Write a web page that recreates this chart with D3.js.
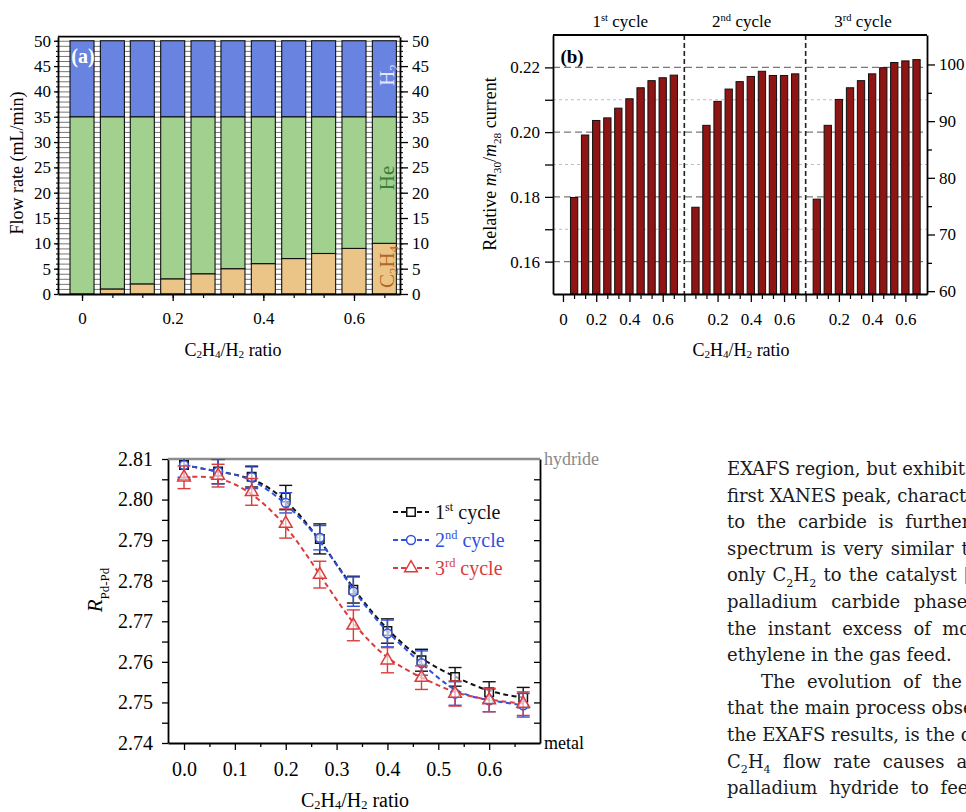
<!DOCTYPE html>
<html>
<head>
<meta charset="utf-8">
<script src="https://cdn.jsdelivr.net/npm/d3@7"></script>
<style>
  body { margin: 0; background: #fff; }
  svg { display: block; }
</style>
</head>
<body>
<svg id="fig" width="966" height="812"></svg>
<script>
// ---------- data ----------
// panel (a): gas flows per C2H4/H2 ratio
var ratios    = [0, 0.067, 0.133, 0.2, 0.267, 0.333, 0.4, 0.467, 0.533, 0.6, 0.667];
var flowC2H4  = [0, 1, 2, 3, 4, 5, 6, 7, 8, 9, 10];
var flowHe    = [35, 34, 33, 32, 31, 30, 29, 28, 27, 26, 25];
var flowH2    = [15, 15, 15, 15, 15, 15, 15, 15, 15, 15, 15];
var aYTicks   = [0, 5, 10, 15, 20, 25, 30, 35, 40, 45, 50];
var aXTicks   = [0, 0.2, 0.4, 0.6];

// panel (b): relative m30/m28 current, three cycles
var cycleRatios = [0.067, 0.133, 0.2, 0.267, 0.333, 0.4, 0.467, 0.533, 0.6, 0.667];
var cycle1 = [0.1798, 0.1991, 0.2036, 0.2044, 0.2074, 0.2103, 0.2137, 0.2159, 0.2168, 0.2176];
var cycle2 = [0.1768, 0.2021, 0.2095, 0.2133, 0.2156, 0.2172, 0.2188, 0.2175, 0.2175, 0.2180];
var cycle3 = [0.1793, 0.2021, 0.2101, 0.2137, 0.2159, 0.2180, 0.2199, 0.2215, 0.2220, 0.2224];
var cycleNames = ["1^{st} cycle", "2^{nd} cycle", "3^{rd} cycle"];
var bYTicks  = [0.16, 0.18, 0.20, 0.22];
var bYMinor  = [0.17, 0.19, 0.21];
var bY2Ticks = [60, 70, 80, 90, 100];
var bY2Minor = [65, 75, 85, 95];
var bXLabels = ["0", "0.2", "0.4", "0.6"];

// panel (c): Pd-Pd distance
var rpd1 = [2.8085, 2.8069, 2.8056, 2.8005, 2.7903, 2.7778, 2.7676, 2.7604, 2.7563, 2.7525, 2.7512];
var rpd2 = [2.8085, 2.8069, 2.8055, 2.7992, 2.7906, 2.7773, 2.7670, 2.7597, 2.7522, 2.7505, 2.7493];
var rpd3 = [2.8055, 2.8059, 2.8019, 2.7941, 2.7815, 2.7690, 2.7604, 2.7561, 2.7522, 2.7506, 2.7497];
var err1 = [0.0035, 0.003, 0.0025, 0.003, 0.0037, 0.0033, 0.003, 0.0027, 0.0023, 0.0026, 0.0025];
var err2 = [0.003, 0.003, 0.0028, 0.0025, 0.003, 0.0036, 0.0033, 0.003, 0.0029, 0.0028, 0.0029];
var err3 = [0.0028, 0.0028, 0.0033, 0.0036, 0.0033, 0.0038, 0.0031, 0.0029, 0.0031, 0.0029, 0.0029];
var cYTicks = [2.74, 2.75, 2.76, 2.77, 2.78, 2.79, 2.80, 2.81];
var cXTicks = [0, 0.1, 0.2, 0.3, 0.4, 0.5, 0.6];

// article text beside panel (c)
var textLines = [
  "EXAFS region, but exhibits a lower intensity of the",
  "first XANES peak, characteristic of the carbide phase",
  "to the carbide is further confirmed by the fact that this",
  "spectrum is very similar to the one obtained when feeding",
  "only C_{2}H_{2} to the catalyst [41]. The formation of the",
  "palladium carbide phase can be explained by",
  "the instant excess of molecular hydrogen over",
  "ethylene in the gas feed.",
  "The evolution of the diffraction data shows",
  "that the main process observed, in agreement with",
  "the EXAFS results, is the decrease of the lattice",
  "C_{2}H_{4} flow rate causes a gradual transformation of",
  "palladium hydride to feed the hydrogenation"
];
var wordGap = [0, 0, 6, 2, 1.5, 8, 5.5, 0, 6, 0, 0, 6.5, 6];
var indented = [false, false, false, false, false, false, false, false, true, false, false, false, false];

// ---------- helpers ----------
var serif = '"Liberation Serif", "Times New Roman", serif';
var svg = d3.select('#fig');
svg.append('rect').attr('width', 966).attr('height', 812).attr('fill', '#fff');

// text with _{sub}, ^{sup} and *italic*; baseDy shifts the whole line (px)
function rich(t, str, size, subShift, baseDy) {
    var parts = str.split(/(_\{[^}]*\}|\^\{[^}]*\}|\*[^*]*\*)/).filter(function (s) { return s.length; });
    var cur = -(baseDy || 0);
    parts.forEach(function (p) {
        var off = 0, txt = p, small = false, ital = false;
        if (p[0] === '_') { off = size * (subShift || 0.22); txt = p.slice(2, -1); small = true; }
        else if (p[0] === '^') { off = -size * 0.38; txt = p.slice(2, -1); small = true; }
        else if (p[0] === '*') { txt = p.slice(1, -1); ital = true; }
        var s = t.append('tspan').attr('dy', off - cur).text(txt);
        if (small) s.attr('font-size', size * 0.62);
        if (ital) s.attr('font-style', 'italic');
        cur = off;
    });
}

function styleAxis(g, size) {
    g.attr('font-family', serif).attr('font-size', size);
    g.selectAll('path, line').attr('stroke', '#000');
    g.select('.domain').attr('stroke-width', 1.8);
    g.selectAll('.tick line').attr('stroke-width', 1.3);
    g.selectAll('.tick text').attr('fill', '#000');
}

function label(x, y, str, size, opts) {
    opts = opts || {};
    var t = svg.append('text')
        .attr('transform', 'translate(' + x + ',' + y + ')' + (opts.rotate ? ' rotate(-90)' : ''))
        .attr('text-anchor', opts.anchor || 'middle')
        .attr('font-family', opts.family || serif)
        .attr('font-size', size)
        .attr('fill', opts.fill || '#000');
    if (opts.bold) t.attr('font-weight', 'bold');
    rich(t, str, size, opts.sub, (opts.mid ? 0.35 * size : 0));
    return t;
}

// ---------- panel (a) ----------
var A = { left: 58, right: 400, top: 36.7, bottom: 294 };
var xA = d3.scaleLinear().domain([-0.053, 0.7015]).range([A.left, A.right]);
var yA = d3.scaleLinear().domain([0, 50.8]).range([A.bottom, A.top]);
var gA = svg.append('g');

// ladder rungs showing between the bars
gA.append('g')
    .attr('transform', 'translate(' + A.left + ',0)')
    .call(d3.axisLeft(yA).tickValues(d3.range(1, 51)).tickSize(-(A.right - A.left)).tickFormat(''))
    .call(function (g) { g.select('.domain').remove(); })
    .selectAll('line').attr('stroke', '#666').attr('stroke-width', 0.9);

var rowsA = ratios.map(function (r, i) {
    return { ratio: r, C2H4: flowC2H4[i], He: flowHe[i], H2: flowH2[i] };
});
var stackA = d3.stack().keys(['C2H4', 'He', 'H2'])(rowsA);
var colorsA = { C2H4: '#ebc588', He: '#a1d08f', H2: '#6884e0' };
var barWA = xA(0.053) - xA(0);

gA.selectAll('g.layer')
    .data(stackA)
    .enter().append('g')
    .attr('class', 'layer')
    .attr('fill', function (d) { return colorsA[d.key]; })
    .selectAll('rect')
    .data(function (d) { return d; })
    .enter().append('rect')
    .attr('x', function (d) { return xA(d.data.ratio) - barWA / 2; })
    .attr('width', barWA)
    .attr('y', function (d) { return yA(d[1]); })
    .attr('height', function (d) { return yA(d[0]) - yA(d[1]); })
    .attr('stroke', '#111')
    .attr('stroke-width', 1.1);

gA.append('line').attr('x1', A.left).attr('x2', A.right).attr('y1', A.top).attr('y2', A.top)
    .attr('stroke', '#000').attr('stroke-width', 1.8);

gA.append('g').attr('transform', 'translate(' + A.left + ',0)')
    .call(d3.axisLeft(yA).tickValues(aYTicks).tickSize(4).tickSizeOuter(0).tickPadding(3))
    .call(styleAxis, 17);
gA.append('g').attr('transform', 'translate(' + A.left + ',0)')
    .call(d3.axisLeft(yA).tickValues(d3.range(0, 51)).tickSize(2).tickFormat(''))
    .call(function (g) { g.select('.domain').remove(); g.selectAll('line').attr('stroke', '#000'); });
gA.append('g').attr('transform', 'translate(' + A.right + ',0)')
    .call(d3.axisRight(yA).tickValues(aYTicks).tickSize(8).tickSizeOuter(0).tickPadding(4))
    .call(styleAxis, 17);
gA.append('g').attr('transform', 'translate(' + A.right + ',0)')
    .call(d3.axisRight(yA).tickValues(d3.range(0, 51)).tickSize(3).tickFormat(''))
    .call(function (g) { g.select('.domain').remove(); g.selectAll('line').attr('stroke', '#000'); });
gA.append('g').attr('transform', 'translate(0,' + A.bottom + ')')
    .call(d3.axisBottom(xA).tickValues(aXTicks).tickSize(7).tickSizeOuter(0).tickPadding(11)
        .tickFormat(function (d) { return d === 0 ? '0' : d3.format('.1f')(d); }))
    .call(styleAxis, 17);
gA.append('g').attr('transform', 'translate(0,' + A.bottom + ')')
    .call(d3.axisBottom(xA).tickValues(ratios).tickSize(4).tickFormat(''))
    .call(function (g) { g.select('.domain').remove(); g.selectAll('line').attr('stroke', '#000').attr('stroke-width', 1.2); });

label(83, 63, '(a)', 20, { bold: true, fill: '#fff' });
label(387, 75, 'H_{2}', 21, { rotate: true, fill: '#e4e8fb', mid: true, sub: 0.15 });
label(387, 178, 'He', 21, { rotate: true, fill: '#3d7d39', mid: true });
label(387, 267, 'C_{2}H_{4}', 21, { rotate: true, fill: '#b4661f', mid: true, sub: 0.15 });
label(17, 163, 'Flow rate (mL/min)', 18, { rotate: true, mid: true });
label(233, 356, 'C_{2}H_{4}/H_{2} ratio', 18, { sub: 0.12 });

// ---------- panel (b) ----------
var B = { left: 553, right: 927, top: 35, bottom: 294 };
var groupW = 0.73;
var xB = d3.scaleLinear().domain([-0.06, 2.19]).range([B.left, B.right]);
var yB = d3.scaleLinear().domain([0.15, 0.23]).range([B.bottom, B.top]);
var yB2 = d3.scaleLinear().domain([59.5, 105.2]).range([B.bottom, B.top]);
var gB = svg.append('g');

gB.selectAll('line.gmaj').data(bYTicks).enter().append('line')
    .attr('x1', B.left).attr('x2', B.right)
    .attr('y1', function (d) { return yB(d); }).attr('y2', function (d) { return yB(d); })
    .attr('stroke', '#7a7a7a').attr('stroke-width', 1.4).attr('stroke-dasharray', '7,4');
gB.selectAll('line.gmin').data(bYMinor).enter().append('line')
    .attr('x1', B.left).attr('x2', B.right)
    .attr('y1', function (d) { return yB(d); }).attr('y2', function (d) { return yB(d); })
    .attr('stroke', '#bdbdbd').attr('stroke-width', 1).attr('stroke-dasharray', '3,3');

gB.selectAll('line.sep').data([groupW, 2 * groupW]).enter().append('line')
    .attr('x1', function (d) { return xB(d); }).attr('x2', function (d) { return xB(d); })
    .attr('y1', B.top).attr('y2', B.bottom)
    .attr('stroke', '#222').attr('stroke-width', 1.6).attr('stroke-dasharray', '5,3');

var barWB = 7.3;
[cycle1, cycle2, cycle3].forEach(function (vals, g) {
    gB.append('g').selectAll('rect')
        .data(vals)
        .enter().append('rect')
        .attr('x', function (d, i) { return xB(g * groupW + cycleRatios[i]) - barWB / 2; })
        .attr('width', barWB)
        .attr('y', function (d) { return yB(d); })
        .attr('height', function (d) { return B.bottom - yB(d); })
        .attr('fill', '#8f1414')
        .attr('stroke', '#111')
        .attr('stroke-width', 1);
    label(xB(g * groupW + 0.345), 27, cycleNames[g], 17);
});

gB.append('line').attr('x1', B.left).attr('x2', B.right).attr('y1', B.top).attr('y2', B.top)
    .attr('stroke', '#000').attr('stroke-width', 1.8);

gB.append('g').attr('transform', 'translate(' + B.left + ',0)')
    .call(d3.axisLeft(yB).tickValues(bYTicks).tickSize(8).tickSizeOuter(0).tickPadding(5).tickFormat(d3.format('.2f')))
    .call(styleAxis, 17);
gB.append('g').attr('transform', 'translate(' + B.left + ',0)')
    .call(d3.axisLeft(yB).tickValues(bYMinor).tickSize(8).tickFormat(''))
    .call(function (g) { g.select('.domain').remove(); g.selectAll('line').attr('stroke', '#000').attr('stroke-width', 1.3); });
gB.append('g').attr('transform', 'translate(' + B.right + ',0)')
    .call(d3.axisRight(yB2).tickValues(bY2Ticks).tickSize(8).tickSizeOuter(0).tickPadding(4))
    .call(styleAxis, 17);
gB.append('g').attr('transform', 'translate(' + B.right + ',0)')
    .call(d3.axisRight(yB2).tickValues(bY2Minor).tickSize(5).tickFormat(''))
    .call(function (g) { g.select('.domain').remove(); g.selectAll('line').attr('stroke', '#000').attr('stroke-width', 1.3); });

var bMajor = [], bMinor = [], bLab = {};
[0, 1, 2].forEach(function (g) {
    d3.range(0, 11).forEach(function (k) {
        var v = +(g * groupW + k / 15).toFixed(4);
        if (k % 3 === 0 && k < 10) {
            bMajor.push(v);
            bLab[v] = (g > 0 && k === 0) ? '' : bXLabels[k / 3];
        } else {
            bMinor.push(v);
        }
    });
});
gB.append('g').attr('transform', 'translate(0,' + B.bottom + ')')
    .call(d3.axisBottom(xB).tickValues(bMajor).tickSize(8).tickSizeOuter(0).tickPadding(11)
        .tickFormat(function (d) { return bLab[d]; }))
    .call(styleAxis, 17);
gB.append('g').attr('transform', 'translate(0,' + B.bottom + ')')
    .call(d3.axisBottom(xB).tickValues(bMinor).tickSize(5).tickFormat(''))
    .call(function (g) { g.select('.domain').remove(); g.selectAll('line').attr('stroke', '#000').attr('stroke-width', 1.2); });

label(572, 63, '(b)', 19, { bold: true });
label(490, 164, 'Relative *m*_{30}/*m*_{28} current', 18, { rotate: true, mid: true, sub: 0.25 });
label(741, 356, 'C_{2}H_{4}/H_{2} ratio', 18, { sub: 0.12 });

// ---------- panel (c) ----------
var C = { left: 168, right: 540, top: 459, bottom: 743 };
var xC = d3.scaleLinear().domain([-0.0315, 0.7]).range([C.left, C.right]);
var yC = d3.scaleLinear().domain([2.74, 2.81]).range([C.bottom, C.top]);
var gC = svg.append('g');

svg.append('clipPath').attr('id', 'clipC').append('rect')
    .attr('x', C.left).attr('y', C.top).attr('width', C.right - C.left).attr('height', C.bottom - C.top);

gC.append('g').attr('transform', 'translate(' + C.left + ',0)')
    .call(d3.axisLeft(yC).tickValues(cYTicks).tickSize(6).tickSizeOuter(0).tickPadding(9).tickFormat(d3.format('.2f')))
    .call(styleAxis, 20);
gC.append('g').attr('transform', 'translate(' + C.left + ',0)')
    .call(d3.axisLeft(yC).tickValues(cYTicks.slice(0, -1).map(function (d) { return d + 0.005; })).tickSize(6).tickFormat(''))
    .call(function (g) { g.select('.domain').remove(); g.selectAll('line').attr('stroke', '#000').attr('stroke-width', 1.3); });
gC.append('g').attr('transform', 'translate(' + C.right + ',0)')
    .call(d3.axisRight(yC).tickValues(d3.range(2.745, 2.81, 0.005)).tickSize(-6).tickSizeOuter(0).tickFormat(''))
    .call(styleAxis, 20);
gC.append('g').attr('transform', 'translate(0,' + C.bottom + ')')
    .call(d3.axisBottom(xC).tickValues(cXTicks).tickSize(7).tickSizeOuter(0).tickPadding(12).tickFormat(d3.format('.1f')))
    .call(styleAxis, 20);
gC.append('g').attr('transform', 'translate(0,' + C.bottom + ')')
    .call(d3.axisBottom(xC).tickValues(cXTicks.map(function (d) { return d + 0.05; })).tickSize(4).tickFormat(''))
    .call(function (g) { g.select('.domain').remove(); g.selectAll('line').attr('stroke', '#000').attr('stroke-width', 1.3); });

// hydride reference line on top
gC.append('line').attr('x1', C.left).attr('x2', C.right).attr('y1', yC(2.81)).attr('y2', yC(2.81))
    .attr('stroke', '#8c8c8c').attr('stroke-width', 2.4);
label(544, yC(2.81), 'hydride', 18, { anchor: 'start', fill: '#8a8a8a', mid: true });
label(544, yC(2.74), 'metal', 18, { anchor: 'start', mid: true });

var seriesC = [
    { vals: rpd1, err: err1, color: '#111111', shape: 'square', name: '1^{st} cycle', text: '#111111' },
    { vals: rpd2, err: err2, color: '#3050e0', shape: 'circle', name: '2^{nd} cycle', text: '#2f4fe0' },
    { vals: rpd3, err: err3, color: '#db3b3b', shape: 'triangle', name: '3^{rd} cycle', text: '#d83a3a' }
];
var symbols = {
    square: d3.symbol().type(d3.symbolSquare).size(72),
    circle: d3.symbol().type(d3.symbolCircle).size(62),
    triangle: d3.symbol().type(d3.symbolTriangle).size(70)
};
var lineC = d3.line()
    .x(function (d) { return xC(d.x); })
    .y(function (d) { return yC(d.y); })
    .curve(d3.curveBasis);

var plotC = gC.append('g').attr('clip-path', 'url(#clipC)');
seriesC.forEach(function (s) {
    var pts = ratios.map(function (r, i) { return { x: r, y: s.vals[i], e: s.err[i] }; });
    var g = plotC.append('g');
    g.append('path').datum(pts)
        .attr('fill', 'none').attr('stroke', s.color).attr('stroke-width', 2)
        .attr('stroke-dasharray', '5,3.5').attr('d', lineC);
    var eb = g.selectAll('g.eb').data(pts).enter().append('g')
        .attr('stroke', s.color).attr('stroke-width', 1.4);
    eb.append('line')
        .attr('x1', function (d) { return xC(d.x); }).attr('x2', function (d) { return xC(d.x); })
        .attr('y1', function (d) { return yC(d.y - d.e); }).attr('y2', function (d) { return yC(d.y + d.e); });
    [-1, 1].forEach(function (sgn) {
        eb.append('line')
            .attr('x1', function (d) { return xC(d.x) - 6.5; }).attr('x2', function (d) { return xC(d.x) + 6.5; })
            .attr('y1', function (d) { return yC(d.y + sgn * d.e); }).attr('y2', function (d) { return yC(d.y + sgn * d.e); });
    });
    g.selectAll('path.mk').data(pts).enter().append('path')
        .attr('transform', function (d) { return 'translate(' + xC(d.x) + ',' + yC(d.y) + ')'; })
        .attr('d', symbols[s.shape])
        .attr('fill', '#fff').attr('fill-opacity', 0.6)
        .attr('stroke', s.color).attr('stroke-width', 1.5);
});

// legend
seriesC.forEach(function (s, i) {
    var ly = 512 + i * 28;
    gC.append('line').attr('x1', 393).attr('x2', 429).attr('y1', ly).attr('y2', ly)
        .attr('stroke', s.color).attr('stroke-width', 2).attr('stroke-dasharray', '5,3');
    gC.append('path').attr('transform', 'translate(411,' + ly + ')')
        .attr('d', symbols[s.shape]).attr('fill', '#fff')
        .attr('stroke', s.color).attr('stroke-width', 1.5);
    label(435, ly, s.name, 20, { anchor: 'start', fill: s.text, mid: true });
});

label(95, 590, '*R*_{Pd-Pd}', 21, { rotate: true, mid: true, sub: 0.3 });
label(355, 807, 'C_{2}H_{4}/H_{2} ratio', 20, { sub: 0.12 });

// ---------- article text ----------
var textG = svg.append('g')
    .attr('font-family', '"DejaVu Serif", serif')
    .attr('font-size', 18)
    .attr('fill', '#1a1a1a');
textLines.forEach(function (str, i) {
    var t = textG.append('text')
        .attr('x', indented[i] ? 761 : 727)
        .attr('y', 475 + i * 26.6)
        .style('word-spacing', wordGap[i] + 'px');
    rich(t, str, 18, 0.3);
});
</script>
</body>
</html>
